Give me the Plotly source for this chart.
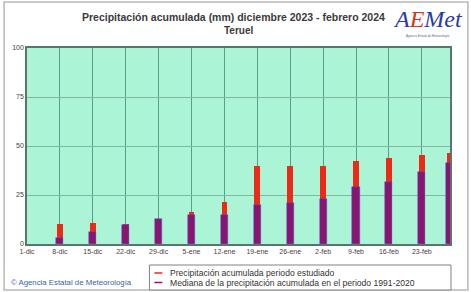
import plotly.graph_objects as go

# ---- data ----
tick_days = [0, 7, 14, 21, 28, 35, 42, 49, 56, 63, 70, 77, 84]
tick_labels = ["1-dic", "8-dic", "15-dic", "22-dic", "29-dic", "5-ene", "12-ene",
               "19-ene", "26-ene", "2-feb", "9-feb", "16-feb", "23-feb"]
bar_days = [7, 14, 21, 28, 35, 42, 49, 56, 63, 70, 77, 84, 90]
precip_periodo = [10.2, 10.8, 10.0, 10.3, 16.5, 21.6, 39.8, 40.0, 40.0, 42.5, 43.7, 45.2, 46.6]
mediana_1991_2020 = [3.0, 6.3, 9.5, 13.0, 14.6, 15.0, 19.9, 21.0, 22.8, 29.2, 31.8, 36.9, 41.5]

title_text = "Precipitación acumulada (mm) diciembre 2023 - febrero 2024"
subtitle_text = "Teruel"
legend_labels = ["Precipitación acumulada periodo estudiado",
                 "Mediana de la precipitación acumulada en el periodo 1991-2020"]
red_col = "#EC2A18"
purple_col = "#8A1470"

W, H = 471, 292
ml, mr, mt, mb = 25, 21, 48, 48
pw, ph = W - ml - mr, H - mt - mb

def px(x):
    return (x - ml) / pw

def py(y):
    return (H - mb - y) / ph

fig = go.Figure()
fig.add_trace(go.Bar(x=bar_days, y=precip_periodo, width=1.2,
                     marker=dict(color=red_col, line=dict(width=0)),
                     name=legend_labels[0], showlegend=False, cliponaxis=False))
fig.add_trace(go.Bar(x=bar_days, y=mediana_1991_2020, width=1.5,
                     marker=dict(color=purple_col, line=dict(color="#5050D0", width=0.5)),
                     name=legend_labels[1], showlegend=False, cliponaxis=False))

font = "Liberation Sans, Arial, sans-serif"
shapes = []
annotations = []

# outer frame
shapes.append(dict(type="rect", xref="paper", yref="paper",
                   x0=px(2), x1=px(468), y0=py(290), y1=py(2),
                   line=dict(color="#B8B8B8", width=1.5), fillcolor="rgba(0,0,0,0)", layer="below"))
# title
annotations.append(dict(text="<b>" + title_text + "</b>", xref="paper", yref="paper",
                        x=px(232), y=py(17), showarrow=False, xanchor="center", yanchor="middle",
                        font=dict(family=font, size=10.5, color="#3A3A3A")))
annotations.append(dict(text="<b>" + subtitle_text + "</b>", xref="paper", yref="paper",
                        x=px(238), y=py(30), showarrow=False, xanchor="center", yanchor="middle",
                        font=dict(family=font, size=10, color="#3A3A3A")))
# logo
annotations.append(dict(text="<i><span style='color:#2A3AA8'>A</span><span style='color:#E03020'>E</span><span style='color:#2A3AA8'>Met</span></i>",
                        xref="paper", yref="paper", x=px(428), y=py(19), showarrow=False,
                        xanchor="center", yanchor="middle",
                        font=dict(family="Liberation Serif, serif", size=24, color="#2A3AA8")))
annotations.append(dict(text="Agencia Estatal de Meteorología", xref="paper", yref="paper",
                        x=px(428), y=py(36), showarrow=False, xanchor="center", yanchor="middle",
                        font=dict(family=font, size=3, color="#6060A0")))
# bottom-left credit
annotations.append(dict(text="© Agencia Estatal de Meteorología", xref="paper", yref="paper",
                        x=px(7), y=py(282), showarrow=False, xanchor="left", yanchor="middle",
                        font=dict(family=font, size=7.8, color="#4060B0")))
# legend box
shapes.append(dict(type="rect", xref="paper", yref="paper",
                   x0=px(148), x1=px(451), y0=py(290), y1=py(265),
                   line=dict(color="#808080", width=1), fillcolor="white"))
for i, (lab, col) in enumerate(zip(legend_labels, [red_col, purple_col])):
    yy = 273 + i * 9.5
    shapes.append(dict(type="line", xref="paper", yref="paper",
                       x0=px(153), x1=px(161), y0=py(yy), y1=py(yy),
                       line=dict(color=col, width=1.5)))
    annotations.append(dict(text=lab, xref="paper", yref="paper", x=px(167), y=py(yy),
                            showarrow=False, xanchor="left", yanchor="middle",
                            font=dict(family=font, size=8.6, color="#333333")))

fig.update_layout(
    width=W, height=H,
    margin=dict(l=ml, r=mr, t=mt, b=mb),
    paper_bgcolor="white", plot_bgcolor="#ABF4D5",
    barmode="overlay", bargap=0,
    showlegend=False,
    shapes=shapes, annotations=annotations,
    xaxis=dict(range=[0, 90], tickmode="array", tickvals=tick_days, ticktext=tick_labels,
               showgrid=True, gridcolor="#5E9C88", gridwidth=1,
               showline=True, linecolor="#55786A", linewidth=1.5, mirror=True,
               ticks="", tickfont=dict(family=font, size=7, color="#444444"),
               zeroline=False, fixedrange=True),
    yaxis=dict(range=[0, 100], tickmode="array", tickvals=[0, 25, 50, 75, 100],
               showgrid=True, gridcolor="#7FB8A2", gridwidth=1,
               showline=True, linecolor="#55786A", linewidth=1.5, mirror=True,
               ticks="", tickfont=dict(family=font, size=7, color="#444444"),
               zeroline=False, fixedrange=True),
)

fig.write_html("out.html", config={"displayModeBar": False},
               post_script="document.body.style.margin='0';document.body.style.overflow='hidden';")
